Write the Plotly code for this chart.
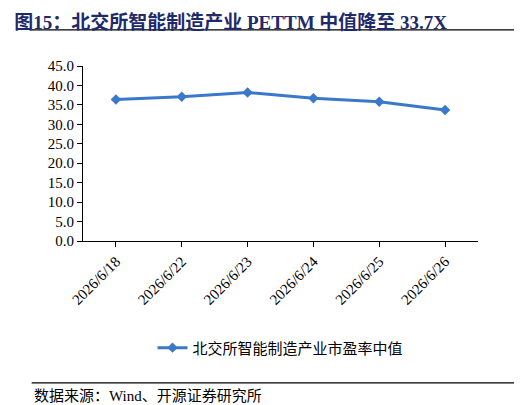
import plotly.graph_objects as go

dates = ["2026/6/18", "2026/6/22", "2026/6/23", "2026/6/24", "2026/6/25", "2026/6/26"]
pe = [36.4, 37.1, 38.2, 36.7, 35.8, 33.7]
yticks = [0, 5, 10, 15, 20, 25, 30, 35, 40, 45]
ytext = ["0.0", "5.0", "10.0", "15.0", "20.0", "25.0", "30.0", "35.0", "40.0", "45.0"]

font = "Liberation Serif, Noto Sans CJK SC, serif"
fig = go.Figure(go.Scatter(x=dates, y=pe, mode="lines+markers",
    line=dict(color="#3a78c9", width=3), marker=dict(symbol="diamond", size=8, color="#3a78c9"),
    name="北交所智能制造产业市盈率中值"))
fig.update_layout(
    width=522, height=405, margin=dict(l=75, r=52, t=58, b=172, autoexpand=False),
    paper_bgcolor="white", plot_bgcolor="white",
    font=dict(family=font, size=15, color="black"),
    showlegend=True,
    legend=dict(orientation="h", x=0.5, xanchor="center", y=-0.611, yanchor="middle", font=dict(size=15)),
    xaxis=dict(type="category", tickangle=-45, showline=True, linecolor="black", ticks="outside", automargin=False,
               ticklen=5, tickcolor="black", range=[-0.5, 5.5], tickfont=dict(size=15)),
    yaxis=dict(range=[0, 45], tickvals=yticks, ticktext=ytext, showline=True, linecolor="black", automargin=False,
               ticks="outside", ticklen=5, tickcolor="black", showgrid=False, zeroline=False, tickfont=dict(size=15)),
    title=dict(text="<b>图15：北交所智能制造产业 PETTM 中值降至 33.7X</b>", x=0.012, xanchor="left",
               y=0.965, yanchor="middle", font=dict(size=19, color="#1f2a6b", family=font)),
    shapes=[dict(type="line", xref="paper", yref="paper", x0=-0.13, x1=1.14, y0=1.206, y1=1.206, line=dict(color="black", width=1.2)),
            dict(type="line", xref="paper", yref="paper", x0=-0.13, x1=1.14, y0=-0.811, y1=-0.811, line=dict(color="black", width=1.2))],
    annotations=[dict(text="数据来源：Wind、开源证券研究所", xref="paper", yref="paper", x=-0.13, y=-0.886,
                      xanchor="left", yanchor="middle", showarrow=False, font=dict(size=15))],
)
fig.write_html("out.html")
